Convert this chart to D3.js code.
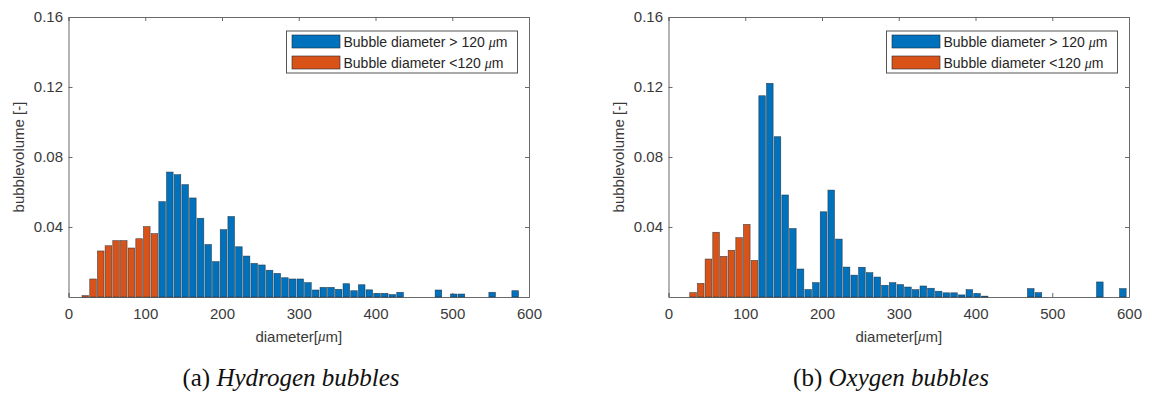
<!DOCTYPE html>
<html><head><meta charset="utf-8">
<script src="https://cdn.jsdelivr.net/npm/d3@7"></script>
<style>body{margin:0;background:#fff}svg{display:block}</style>
</head><body>
<svg id="c" width="1150" height="393"></svg>
<script>
// Hydrogen bubbles (panel a)
const h2SmallD = [22,32,42,52,62,72,82,92,102,112];
const h2SmallV = [0.0008,0.0103,0.0263,0.0293,0.0322,0.0322,0.0280,0.0333,0.0402,0.0362];
const h2LargeD = [122,132,142,152,162,172,182,192,202,212,222,232,242,252,262,272,282,292,302,312,322,332,342,352,362,372,382,392,402,412,422,432,482,502,512,552,582];
const h2LargeV = [0.0545,0.0714,0.0699,0.0642,0.0566,0.0450,0.0300,0.0202,0.0385,0.0460,0.0287,0.0234,0.0192,0.0183,0.0153,0.0135,0.0110,0.0103,0.0103,0.0082,0.0040,0.0055,0.0055,0.0044,0.0076,0.0036,0.0070,0.0041,0.0021,0.0021,0.0014,0.0027,0.0040,0.0017,0.0017,0.0027,0.0036];
// Oxygen bubbles (panel b)
const o2SmallD = [32,42,52,62,72,82,92,102,112];
const o2SmallV = [0.0025,0.0078,0.0217,0.0370,0.0232,0.0267,0.0339,0.0415,0.0209];
const o2LargeD = [122,132,142,152,162,172,182,192,202,212,222,232,242,252,262,272,282,292,302,312,322,332,342,352,362,372,382,392,402,412,472,482,562,592];
const o2LargeV = [0.1150,0.1221,0.0916,0.0583,0.0391,0.0160,0.0043,0.0082,0.0487,0.0611,0.0331,0.0171,0.0125,0.0170,0.0139,0.0114,0.0067,0.0082,0.0071,0.0057,0.0042,0.0063,0.0050,0.0033,0.0024,0.0024,0.0012,0.0042,0.0020,0.0005,0.0048,0.0025,0.0086,0.0048];

const xTicks = [0,100,200,300,400,500,600];
const yTicks = [0.04,0.08,0.12,0.16];
const legendLabels = ["Bubble diameter > 120 ", "Bubble diameter <120 "];
const captions = [["(a) ","Hydrogen bubbles"],["(b) ","Oxygen bubbles"]];

const BLUE = "#0072BD", ORANGE = "#D95319";
const svg = d3.select("#c");
const SANS = "'Liberation Sans', Arial, Helvetica, sans-serif";
const SERIF = "'Liberation Serif', 'Times New Roman', serif";
const TXT = "#3a3a3a";

function panel(off, smallD, smallV, largeD, largeV, cap) {
  const L = 68.5 + off, R = 529 + off, T = 17, B = 297;
  const x = d3.scaleLinear().domain([0,600]).range([L,R]);
  const y = d3.scaleLinear().domain([0,0.16]).range([B,T]);
  const g = svg.append("g");

  g.append("g").attr("transform",`translate(0,${B})`)
    .call(d3.axisBottom(x).tickValues(xTicks).tickSize(-4).tickPadding(11).tickFormat(d3.format("d")));
  g.append("g").attr("transform",`translate(${L},0)`)
    .call(d3.axisLeft(y).tickValues(yTicks).tickSize(-4).tickPadding(5.5).tickFormat(d=>d.toString()));
  g.append("g").attr("transform",`translate(0,${T})`)
    .call(d3.axisTop(x).tickValues(xTicks).tickSize(-4).tickFormat(""));
  g.append("g").attr("transform",`translate(${R},0)`)
    .call(d3.axisRight(y).tickValues(yTicks).tickSize(-4).tickFormat(""));
  g.selectAll(".domain").attr("stroke","#6a6a6a").attr("stroke-width",1);
  g.selectAll(".tick line").attr("stroke","#6a6a6a");
  g.selectAll(".tick text").attr("font-family",SANS).attr("font-size",15).attr("fill",TXT);

  const bw = 8.6;
  const drawBars = (D,V,col) => g.append("g").selectAll("rect").data(D.map((d,i)=>({d,v:V[i]}))).join("rect")
    .attr("x",p=>x(p.d-bw/2)).attr("width",x(bw)-x(0))
    .attr("y",p=>y(p.v)).attr("height",p=>Math.max(0.8,y(0)-y(p.v)))
    .attr("fill",col).attr("stroke","#1e2a33").attr("stroke-width",0.6).attr("stroke-opacity",0.8);
  drawBars(smallD,smallV,ORANGE);
  drawBars(largeD,largeV,BLUE);

  const lg = g.append("g");
  lg.append("rect").attr("x",286.5+off).attr("y",31).attr("width",231).attr("height",42)
    .attr("fill","#fff").attr("stroke","#555").attr("stroke-width",1);
  [BLUE,ORANGE].forEach((c,i)=>{
    lg.append("rect").attr("x",292+off).attr("y",35+i*21).attr("width",48).attr("height",13)
      .attr("fill",c).attr("stroke","#1e2a33").attr("stroke-width",0.6);
    const t = lg.append("text").attr("x",343.5+off).attr("y",42+i*21).attr("dominant-baseline","central")
      .attr("font-family",SANS).attr("font-size",14).attr("fill","#262626");
    t.append("tspan").text(legendLabels[i]);
    t.append("tspan").attr("font-family",SERIF).attr("font-style","italic").text("\u03bc");
    t.append("tspan").text("m");
  });

  const xl = g.append("text").attr("x",(L+R)/2).attr("y",336).attr("text-anchor","middle")
    .attr("dominant-baseline","central").attr("font-family",SANS).attr("font-size",15).attr("fill",TXT);
  xl.append("tspan").text("diameter[");
  xl.append("tspan").attr("font-family",SERIF).attr("font-style","italic").text("\u03bc");
  xl.append("tspan").text("m]");
  g.append("text").attr("transform",`translate(${18+off},${(T+B)/2}) rotate(-90)`)
    .attr("text-anchor","middle").attr("dominant-baseline","central")
    .attr("font-family",SANS).attr("font-size",15).attr("fill",TXT).text("bubblevolume [-]");

  const ct = g.append("text").attr("x",291+off).attr("y",377).attr("text-anchor","middle")
    .attr("dominant-baseline","central").attr("font-family",SERIF).attr("font-size",25).attr("fill","#111");
  ct.append("tspan").text(cap[0]);
  ct.append("tspan").attr("font-style","italic").text(cap[1]);
}

panel(0, h2SmallD, h2SmallV, h2LargeD, h2LargeV, captions[0]);
panel(600, o2SmallD, o2SmallV, o2LargeD, o2LargeV, captions[1]);
</script>
</body></html>
